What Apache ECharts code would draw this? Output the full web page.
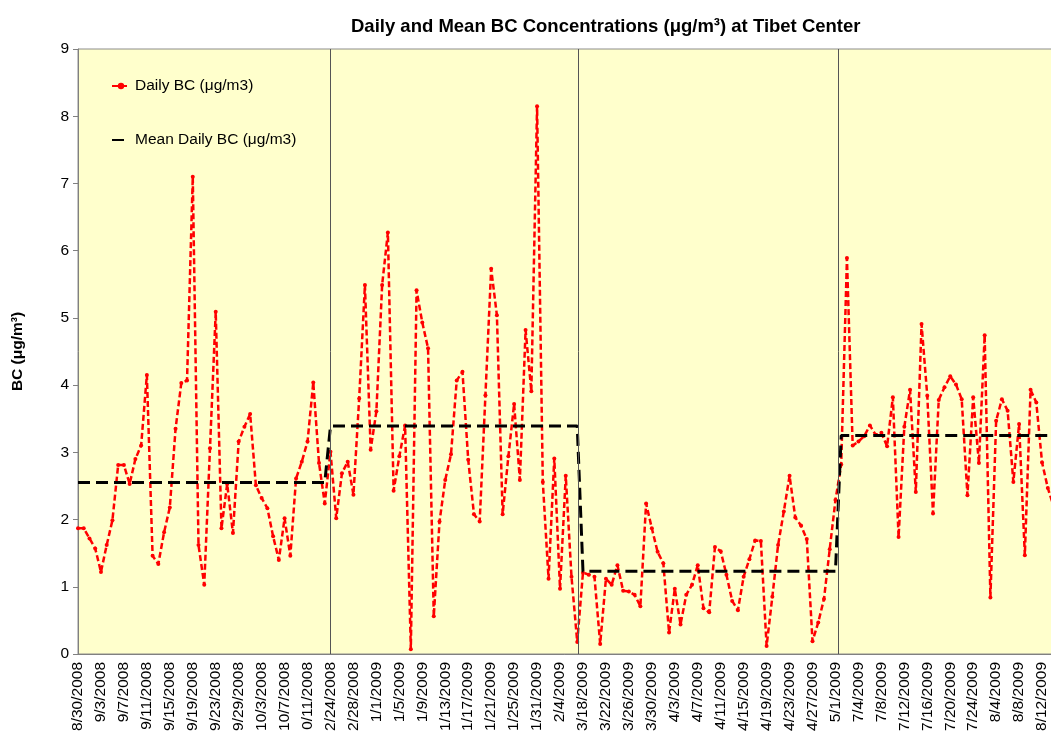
<!DOCTYPE html>
<html>
<head>
<meta charset="utf-8">
<title>Daily and Mean BC Concentrations at Tibet Center</title>
<script src="https://cdn.jsdelivr.net/npm/echarts@6/dist/echarts.min.js"></script>
<style>
html,body{margin:0;padding:0;background:#fff;}
#chart{width:1051px;height:738px;}
</style>
</head>
<body>
<div id="chart"></div>
<script>
// tick labels, one every 4 days
var tickLabels=['8/30/2008','9/3/2008','9/7/2008','9/11/2008','9/15/2008','9/19/2008','9/23/2008','9/29/2008',
    '10/3/2008','10/7/2008','0/11/2008','2/24/2008','2/28/2008','1/1/2009','1/5/2009','1/9/2009','1/13/2009',
    '1/17/2009','1/21/2009','1/25/2009','1/31/2009','2/4/2009','3/18/2009','3/22/2009','3/26/2009','3/30/2009',
    '4/3/2009','4/7/2009','4/11/2009','4/15/2009','4/19/2009','4/23/2009','4/27/2009','5/1/2009','7/4/2009',
    '7/8/2009','7/12/2009','7/16/2009','7/20/2009','7/24/2009','8/4/2009','8/8/2009','8/12/2009'];
var tickStep=4;

// daily BC, split by measuring period
var period1=[1.87,1.87,1.72,1.57,1.22,1.62,1.99,2.81,2.81,2.53,2.9,3.1,4.15,1.46,1.34,1.81,2.18,3.35,4.03,4.07,
    7.1,1.62,1.03,3.06,5.09,1.87,2.53,1.8,3.16,3.38,3.57,2.51,2.32,2.17,1.75,1.4,2.02,1.46,2.61,2.86,3.16,4.04,2.84,2.24];
var period2=[3.01,2.02,2.69,2.86,2.37,3.8,5.49,3.04,3.61,5.49,6.27,2.43,2.94,3.4,0.07,5.41,4.93,4.55,0.56,1.97,
    2.59,2.97,4.07,4.2,2.89,2.08,1.97,3.85,5.73,5.04,2.08,2.94,3.72,2.59,4.82,3.91,8.15,2.56,1.12,2.91,0.97,2.65,1.15,0.18];
var period3=[1.21,1.18,1.15,0.15,1.12,1.03,1.32,0.94,0.93,0.88,0.71,2.24,1.87,1.52,1.35,0.32,0.97,0.44,0.88,1.03,
    1.32,0.68,0.62,1.59,1.53,1.18,0.79,0.65,1.15,1.41,1.69,1.68,0.12,0.85,1.62,2.12,2.65,2.03,1.91,1.71,0.19,0.47,0.82,1.56,2.29];
var period4=[2.82,5.89,3.1,3.16,3.24,3.4,3.26,3.29,3.09,3.82,1.74,3.38,3.93,2.41,4.91,3.84,2.09,3.78,3.97,4.13,
    4.01,3.79,2.36,3.82,2.84,4.74,0.84,3.47,3.79,3.62,2.56,3.42,1.47,3.93,3.74,2.85,2.47,2.2];

// mean of each period
var periodMeans=[2.55,3.39,1.23,3.25];
// where the period lines sit (day index)
var periodBreaks=[44,87.2,132.4];

var allDays=period1.concat(period2,period3,period4);
var periodStarts=[0,period1.length,period1.length+period2.length,period1.length+period2.length+period3.length];

var dailyData=[];
var meanData=[];
for(var i=0;i<allDays.length;i++){
    dailyData.push([i,allDays[i]]);
    var p=0;
    for(var j=0;j<periodStarts.length;j++){
        if(i>=periodStarts[j])p=j;
    }
    meanData.push([i,periodMeans[p]]);
}

var font='"Liberation Sans", Arial, sans-serif';
var myChart=echarts.init(document.getElementById('chart'));
var option={
    animation:false,
    backgroundColor:'#ffffff',
    title:{
        text:'Daily and Mean BC Concentrations (μg/m³) at Tibet Center',
        left:346,
        top:12,
        textStyle:{fontFamily:font,fontSize:18.5,fontWeight:'bold',color:'#000'}
    },
    legend:{
        orient:'vertical',
        left:106,
        top:73,
        itemWidth:18,
        itemHeight:8,
        itemGap:38,
        data:['Daily BC (μg/m3)',{name:'Mean Daily BC (μg/m3)',itemStyle:{opacity:0}}],
        textStyle:{fontFamily:font,fontSize:15.5,color:'#000'}
    },
    grid:{
        left:78,
        top:49,
        bottom:84,
        right:-14,
        outerBoundsMode:'none',
        containLabel:false,
        show:true,
        backgroundColor:'#FFFFCC',
        borderColor:'#8c8c8c',
        borderWidth:1
    },
    xAxis:{
        type:'value',
        min:0,
        max:172,
        interval:tickStep,
        splitLine:{show:false},
        axisTick:{show:false},
        axisLine:{show:true,lineStyle:{color:'#808080',width:1}},
        axisLabel:{
            rotate:90,
            margin:8,
            fontFamily:font,
            fontSize:15.5,
            color:'#000',
            formatter:function(v){
                var k=Math.round(v/tickStep);
                return tickLabels[k]||'';
            }
        }
    },
    yAxis:{
        type:'value',
        min:0,
        max:9,
        interval:1,
        name:'BC (μg/m³)',
        nameLocation:'middle',
        nameRotate:90,
        nameGap:52,
        nameTextStyle:{fontFamily:font,fontSize:15.5,fontWeight:'bold',color:'#000'},
        splitLine:{show:false},
        axisLine:{show:true,lineStyle:{color:'#808080',width:1}},
        axisTick:{show:true,inside:false,length:5,lineStyle:{color:'#808080'}},
        axisLabel:{fontFamily:font,fontSize:15.5,color:'#000',margin:9}
    },
    series:[
        {
            name:'Daily BC (μg/m3)',
            type:'line',
            data:dailyData,
            symbol:'circle',
            symbolSize:4,
            itemStyle:{color:'#ff0000'},
            lineStyle:{color:'#ff0000',width:2.5,type:[6,3]},
            z:2
        },
        {
            name:'Mean Daily BC (μg/m3)',
            type:'line',
            data:meanData,
            symbol:'none',
            itemStyle:{color:'#000'},
            lineStyle:{color:'#000',width:3,type:[12,6]},
            z:3,
            markLine:{
                silent:true,
                symbol:'none',
                label:{show:false},
                lineStyle:{color:'#555',width:1,type:'solid'},
                data:periodBreaks.map(function(b){return {xAxis:b};})
            }
        }
    ]
};
myChart.setOption(option);
</script>
</body>
</html>
